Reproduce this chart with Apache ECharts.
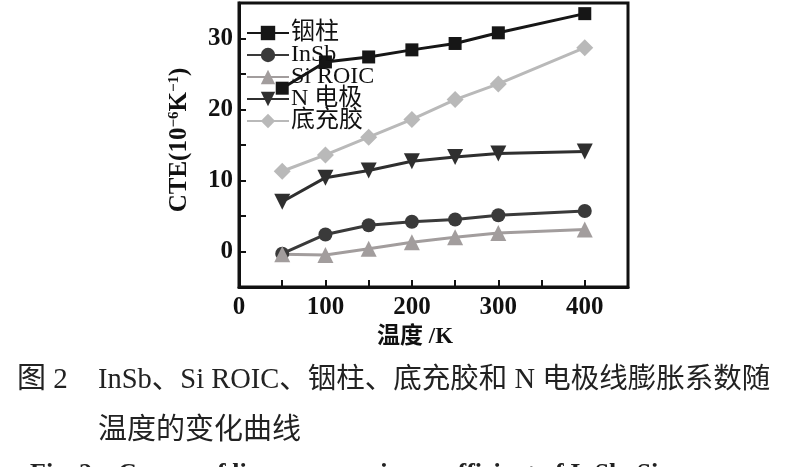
<!DOCTYPE html>
<html>
<head>
<meta charset="utf-8">
<script src="https://cdn.jsdelivr.net/npm/echarts@6/dist/echarts.min.js"></script>
<style>
html,body{margin:0;padding:0;background:#fff;}
#chart{width:800px;height:467px;}
</style>
</head>
<body>
<div id="chart"></div>
<script>
var temps = [50, 100, 150, 200, 250, 300, 400];
var indiumColumn = [23.0, 26.7, 27.4, 28.4, 29.3, 30.8, 33.5];
var insb = [-0.3, 2.4, 3.7, 4.2, 4.5, 5.1, 5.7];
var siRoic = [-0.4, -0.5, 0.4, 1.3, 2.0, 2.6, 3.1];
var nElectrode = [7.0, 10.4, 11.4, 12.7, 13.3, 13.8, 14.1];
var underfill = [11.3, 13.6, 16.1, 18.6, 21.4, 23.6, 28.7];
var seriesNames = ['铟柱', 'InSb', 'Si ROIC', 'N 电极', '底充胶'];
var xTickLabels = [0, 100, 200, 300, 400];
var yTickLabels = [0, 10, 20, 30];

function pairs(ys){ return temps.map(function(t,i){ return [t, ys[i]]; }); }

var serif = '"Liberation Serif", "DejaVu Serif", "Noto Sans CJK SC", serif';
var triDown = 'path://M0,0 L10,0 L5,9 Z';

var chart = echarts.init(document.getElementById('chart'), null, {renderer:'canvas'});
function mk(name, data, color, symbol, size){
  return {
    name: name, type: 'line', data: pairs(data),
    symbol: symbol, symbolSize: size,
    lineStyle: {color: color, width: 3},
    itemStyle: {color: color},
    z: 3
  };
}
chart.setOption({
  animation: false,
  backgroundColor: '#fff',
  grid: {left: 239, top: 3, right: 172, bottom: 180, show: true, borderColor: '#111', borderWidth: 3, backgroundColor: 'transparent'},
  legend: {
    orient: 'vertical', left: 241, top: 16,
    itemWidth: 42, itemHeight: 18, itemGap: -2,
    data: seriesNames,
    textStyle: {fontFamily: serif, fontSize: 24, color: '#111', lineHeight: 22, padding: [0,0,0,-3]}
  },
  xAxis: {
    type: 'value', min: 0, max: 450, interval: 50,
    axisLine: {show: true, onZero: false, lineStyle: {color: '#111', width: 3}},
    axisTick: {show: true, inside: true, length: 7, lineStyle: {color: '#111', width: 2}},
    splitLine: {show: false},
    axisLabel: {
      margin: 8, fontFamily: serif, fontSize: 25, fontWeight: 'bold', color: '#111',
      formatter: function(v){ return xTickLabels.indexOf(v) >= 0 ? String(v) : ''; }
    }
  },
  yAxis: {
    type: 'value', min: -5, max: 35, interval: 5,
    axisLine: {show: true, onZero: false, lineStyle: {color: '#111', width: 3}},
    axisTick: {show: true, inside: true, length: 7, lineStyle: {color: '#111', width: 2}},
    splitLine: {show: false},
    axisLabel: {
      margin: 6, fontFamily: serif, fontSize: 25, fontWeight: 'bold', color: '#111',
      formatter: function(v){ return yTickLabels.indexOf(v) >= 0 ? String(v) : ''; }
    },
    name: '{a|CTE(10}{s|−6}{a|K}{s|−1}{a|)}',
    nameLocation: 'middle', nameGap: 46, nameRotate: 90,
    nameTextStyle: {
      padding: [0, 0, 0, 10],
      rich: {
        a: {fontFamily: serif, fontSize: 25, fontWeight: 'bold', color: '#111', lineHeight: 26},
        s: {fontFamily: serif, fontSize: 15, fontWeight: 'bold', color: '#111', verticalAlign: 'top', lineHeight: 26, padding: [0,0,9,0]}
      }
    }
  },
  series: [
    mk(seriesNames[0], indiumColumn, '#161616', 'rect', 13),
    mk(seriesNames[1], insb, '#3a3a3a', 'circle', 14),
    mk(seriesNames[2], siRoic, '#a29d9d', 'triangle', 16),
    mk(seriesNames[3], nElectrode, '#2f2f2f', triDown, 16),
    mk(seriesNames[4], underfill, '#b9b9b9', 'diamond', 17)
  ],
  graphic: [
    {type: 'text', left: 377, top: 326, style: {text: '温度 /K', font: 'bold 23px ' + serif, fill: '#111'}},
    {type: 'text', left: 17, top: 366, style: {text: '图 2', font: '29px ' + serif, fill: '#222'}},
    {type: 'text', left: 98, top: 366, style: {text: 'InSb、Si ROIC、铟柱、底充胶和 N 电极线膨胀系数随', font: '28.5px ' + serif, fill: '#222'}},
    {type: 'text', left: 98, top: 417, style: {text: '温度的变化曲线', font: '29px ' + serif, fill: '#222'}},
    {type: 'text', left: 30, top: 461, style: {text: 'Fig. 2    Curves of linear expansion coefficient of InSb, Si', font: 'bold 26px ' + serif, fill: '#222'}}
  ]
});
</script>
</body>
</html>
